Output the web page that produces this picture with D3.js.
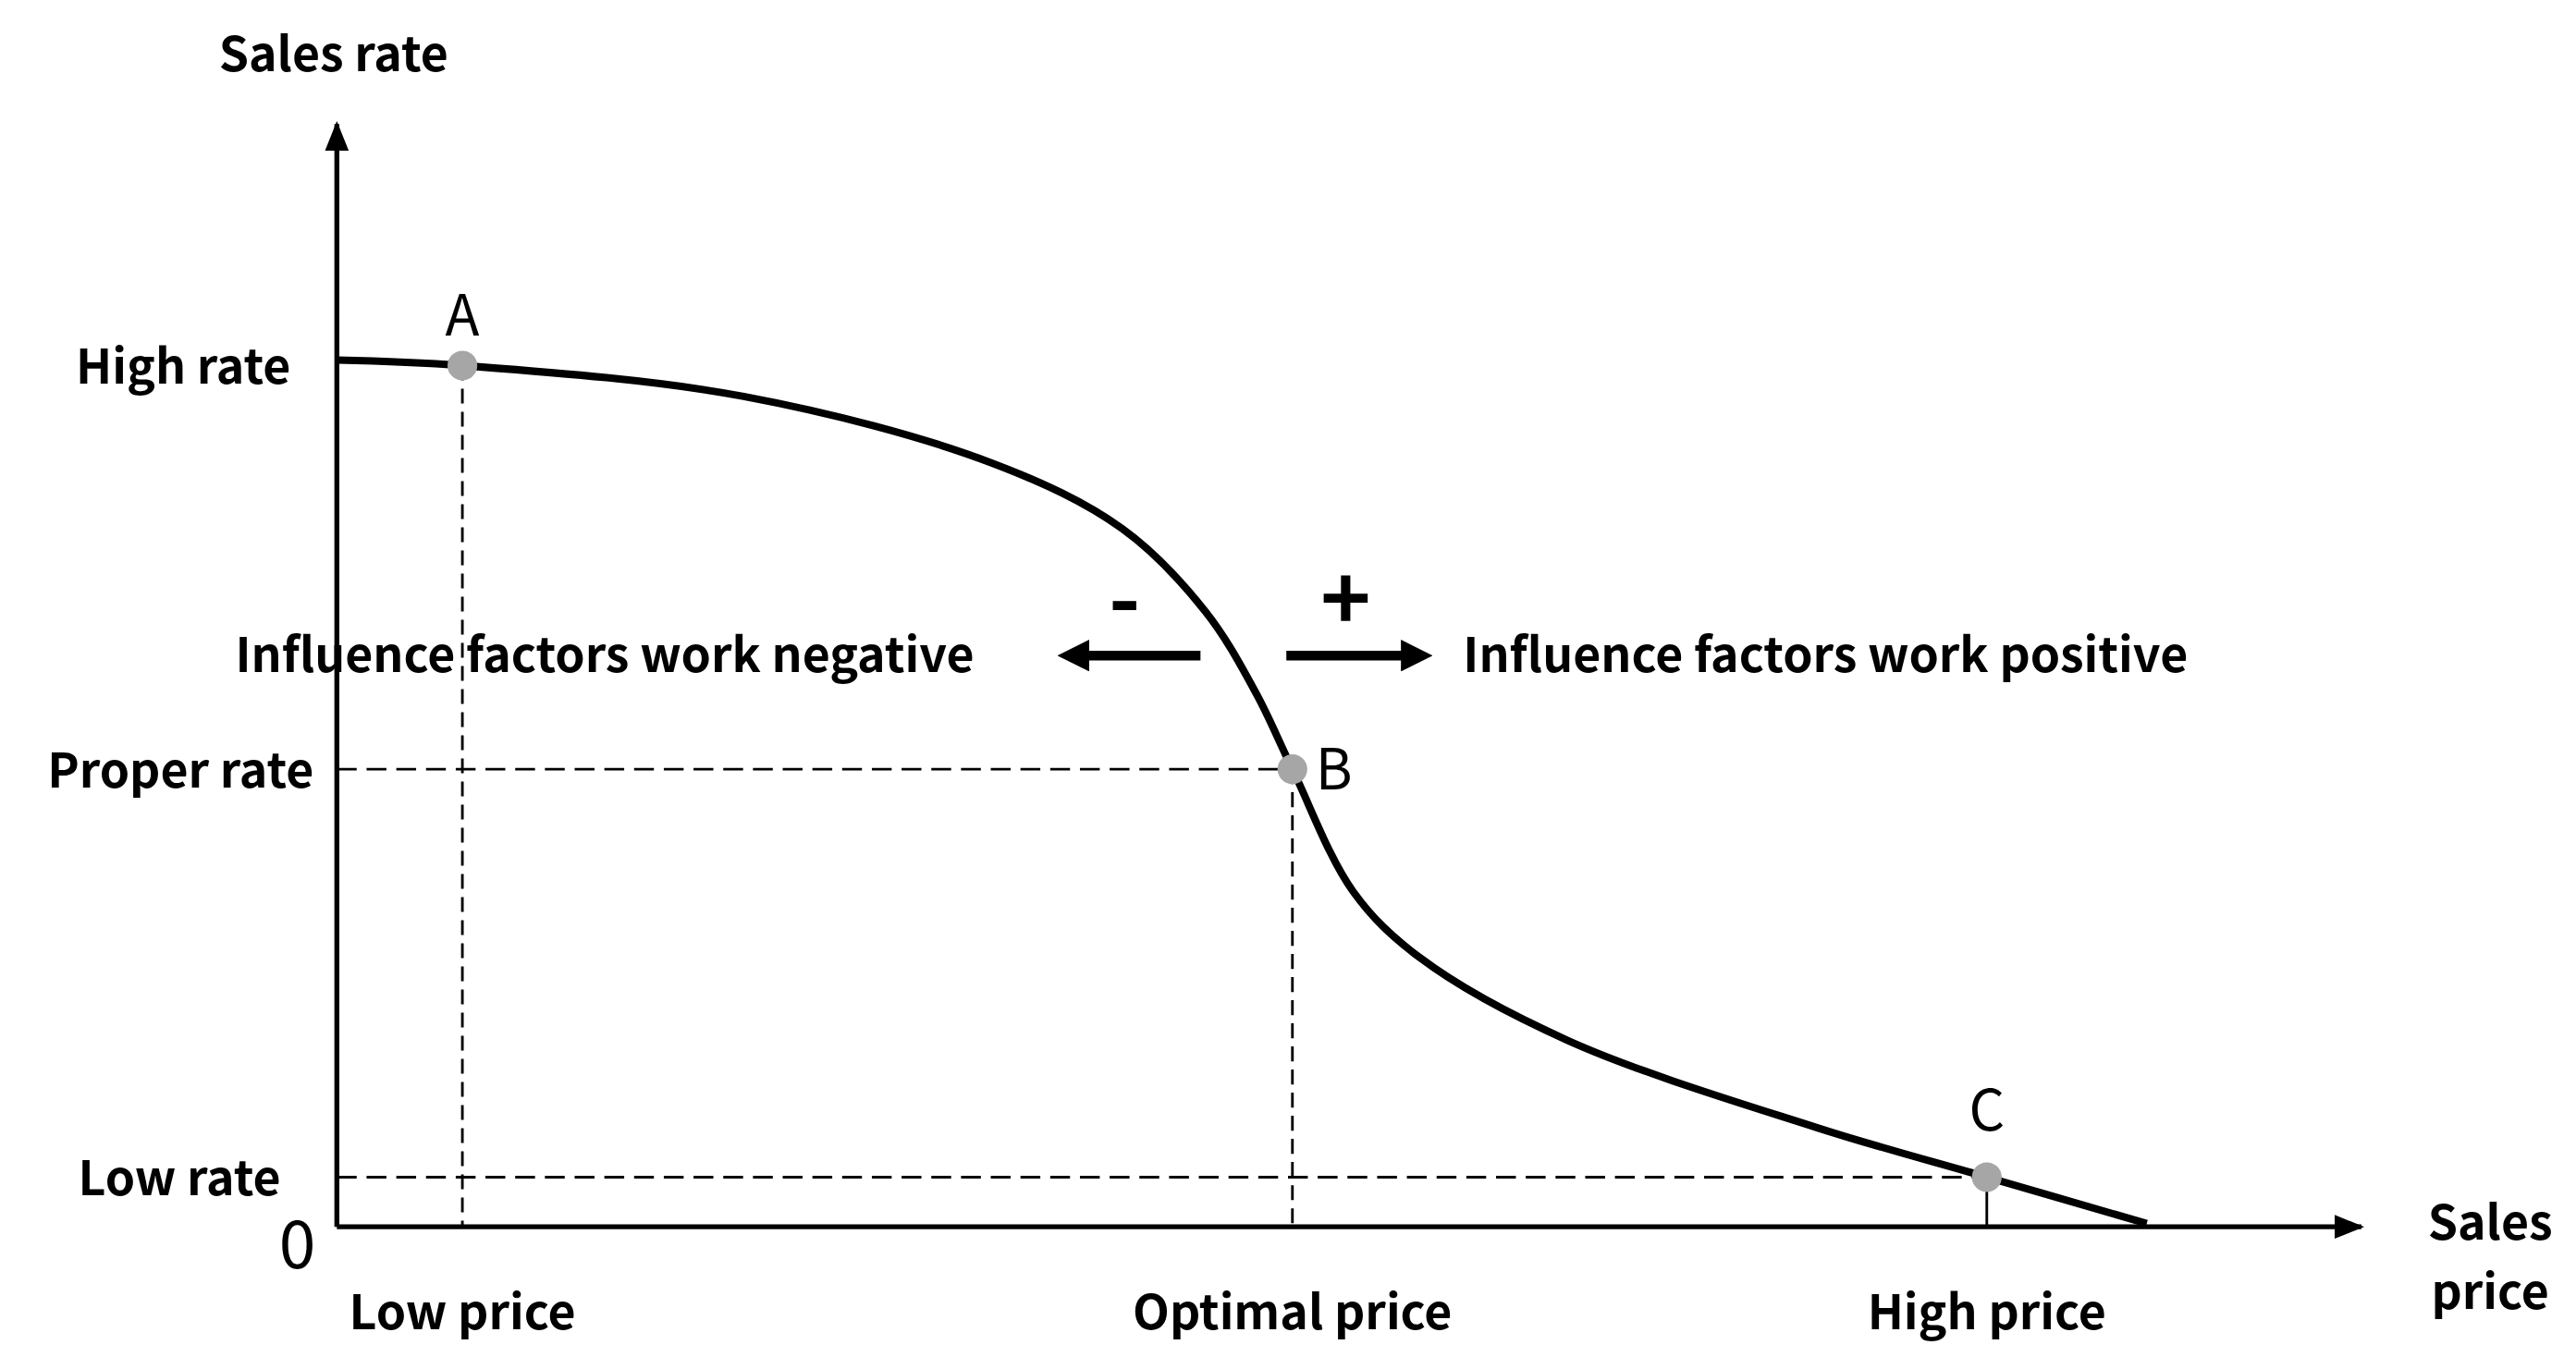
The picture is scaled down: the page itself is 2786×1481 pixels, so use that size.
<!DOCTYPE html>
<html><head><meta charset="utf-8">
<script src="https://cdn.jsdelivr.net/npm/d3@7"></script>
<style>body{margin:0;background:#fff}text{font-family:"Noto Sans CJK KR","Noto Sans",sans-serif}</style>
</head><body>
<svg id="chart" width="2786" height="1481" viewBox="0 0 1560 829"></svg>
<script>
// curve of sales rate vs sales price (relative units 0..100)
const curvePrice = [0, 6.2, 20.1, 32.3, 38.8, 42.9, 45.4, 47.2, 50.2, 53.5, 60.8, 73.1, 81.5, 89.4];
const curveRate  = [78.6, 78.1, 75.3, 69.3, 63.3, 55.8, 48.4, 41.5, 30.4, 24.4, 16.9, 9.0, 4.5, 0.3];

const points = [
    {name: 'A', price: 6.2, rate: 78.1},
    {name: 'B', price: 47.2, rate: 41.5},
    {name: 'C', price: 81.5, rate: 4.5}
];
const rateLabels = ['High rate', 'Proper rate', 'Low rate'];
const priceLabels = ['Low price', 'Optimal price', 'High price'];

const svg = d3.select('#chart');
const x = d3.scaleLinear().domain([0, 100]).range([204, 1430]);
const y = d3.scaleLinear().domain([0, 100]).range([743, 75]);

const defs = svg.append('defs');
defs.append('marker').attr('id', 'ax').attr('viewBox', '0 0 10 10')
    .attr('refX', 9).attr('refY', 5).attr('markerWidth', 6).attr('markerHeight', 6)
    .attr('markerUnits', 'strokeWidth').attr('orient', 'auto')
    .append('path').attr('d', 'M0,1L10,5L0,9Z').attr('fill', '#000');
defs.append('marker').attr('id', 'big').attr('viewBox', '0 0 10 10')
    .attr('refX', 5).attr('refY', 5).attr('markerWidth', 3.2).attr('markerHeight', 3.2)
    .attr('markerUnits', 'strokeWidth').attr('orient', 'auto')
    .append('path').attr('d', 'M0,0L10,5L0,10Z').attr('fill', '#000');

// guide lines
const g = svg.append('g').attr('stroke', '#000').attr('stroke-width', 1.6);
g.append('line').attr('x1', x(points[0].price)).attr('x2', x(points[0].price))
    .attr('y1', y(points[0].rate)).attr('y2', y(0)).attr('stroke-dasharray', '9,5');
g.append('line').attr('x1', x(points[1].price)).attr('x2', x(points[1].price))
    .attr('y1', y(points[1].rate)).attr('y2', y(0)).attr('stroke-dasharray', '9,5');
g.append('line').attr('x1', x(points[2].price)).attr('x2', x(points[2].price))
    .attr('y1', y(points[2].rate)).attr('y2', y(0));
g.append('line').attr('x1', x(0)).attr('x2', x(points[1].price))
    .attr('y1', y(points[1].rate)).attr('y2', y(points[1].rate)).attr('stroke-dasharray', '12,6');
g.append('line').attr('x1', x(0)).attr('x2', x(points[2].price))
    .attr('y1', y(points[2].rate)).attr('y2', y(points[2].rate)).attr('stroke-dasharray', '12,6');

// axes
svg.append('line').attr('x1', x(0)).attr('y1', y(0)).attr('x2', x(0)).attr('y2', y(100))
    .attr('stroke', '#000').attr('stroke-width', 3).attr('marker-end', 'url(#ax)');
svg.append('line').attr('x1', x(0)).attr('y1', y(0)).attr('x2', x(100)).attr('y2', y(0))
    .attr('stroke', '#000').attr('stroke-width', 3).attr('marker-end', 'url(#ax)');

// curve
const line = d3.line().x(d => x(d[0])).y(d => y(d[1])).curve(d3.curveCatmullRom);
svg.append('path').datum(d3.zip(curvePrice, curveRate)).attr('d', line)
    .attr('fill', 'none').attr('stroke', '#000').attr('stroke-width', 4.5);

// points
svg.selectAll('.pt').data(points).enter().append('circle')
    .attr('cx', d => x(d.price)).attr('cy', d => y(d.rate)).attr('r', 9).attr('fill', '#a6a6a6');
const lbl = [[0, -18, 'middle'], [14, 12, 'start'], [0, -28, 'middle']];
svg.selectAll('.pl').data(points).enter().append('text')
    .attr('x', (d, i) => x(d.price) + lbl[i][0]).attr('y', (d, i) => y(d.rate) + lbl[i][1])
    .attr('text-anchor', (d, i) => lbl[i][2]).attr('font-size', 34).text(d => d.name);

// axis labels
const bold = {'font-size': 29, 'font-weight': 'bold'};
function txt(t, px, py, anchor, o) {
    const e = svg.append('text').attr('x', px).attr('y', py).attr('text-anchor', anchor).text(t);
    Object.entries(o || bold).forEach(([k, v]) => e.attr(k, v));
    return e;
}
txt('Sales rate', 202, 43, 'middle');
points.forEach((p, i) => {
    txt(rateLabels[i], [176, 190, 170][i], y(p.rate) + 11, 'end');
    txt(priceLabels[i], x(p.price), 805, 'middle');
});
txt('Sales', 1508, 751, 'middle');
txt('price', 1508, 793, 'middle');
txt('0', 180, 768, 'middle', {'font-size': 40});

// influence arrows
svg.append('line').attr('x1', 727).attr('y1', 397).attr('x2', 650).attr('y2', 397)
    .attr('stroke', '#000').attr('stroke-width', 6).attr('marker-end', 'url(#big)');
svg.append('line').attr('x1', 779).attr('y1', 397).attr('x2', 858).attr('y2', 397)
    .attr('stroke', '#000').attr('stroke-width', 6).attr('marker-end', 'url(#big)');
txt('Influence factors work negative', 590, 407, 'end');
txt('Influence factors work positive', 886, 407, 'start');
txt('-', 681, 382, 'middle', {'font-size': 52, 'font-weight': 'bold'});
txt('+', 815, 382, 'middle', {'font-size': 52, 'font-weight': 'bold'});
</script>
</body></html>
